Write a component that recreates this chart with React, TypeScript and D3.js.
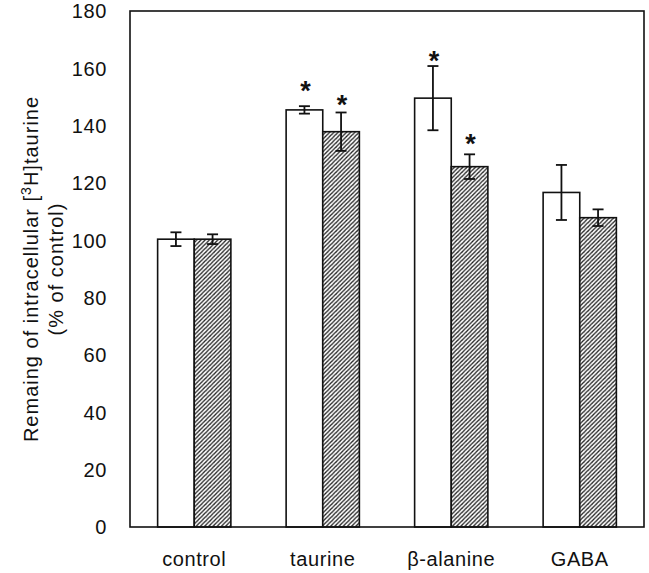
import { useRef, useEffect } from "react";
import * as d3 from "d3";

const categories = ["control", "taurine", "β-alanine", "GABA"];
const series = ["open", "hatched"];
const openValues = [100.4, 145.5, 149.6, 116.7];
const openErrors = [2.4, 1.3, 11.2, 9.6];
const hatchedValues = [100.4, 137.9, 125.7, 107.9];
const hatchedErrors = [1.7, 6.7, 4.3, 2.9];
// asterisk centre positions (y units), null = not significant
const openStars = [null, 154.2, 164.6, null];
const hatchedStars = [null, 149.3, 135.8, null];
const yTicks = [0, 20, 40, 60, 80, 100, 120, 140, 160, 180];

const W = 649;
const H = 573;
const FONT = "'Liberation Sans', Arial, Helvetica, sans-serif";

export default function App() {
  const svgRef = useRef<SVGSVGElement>(null);

  useEffect(() => {
    if (!svgRef.current) return;
    const svg = d3.select(svgRef.current);
    svg.selectAll("*").remove();

    const margin = { top: 11, right: 5, bottom: 46, left: 130 };
    const left = margin.left;
    const right = W - margin.right;
    const top = margin.top;
    const bottom = H - margin.bottom;

    const x = d3
      .scaleBand<string>()
      .domain(categories)
      .range([left, right])
      .paddingInner(0.43)
      .paddingOuter(0.215);
    const xs = d3
      .scaleBand<string>()
      .domain(series)
      .range([0, x.bandwidth()]);
    const y = d3.scaleLinear().domain([0, 180]).range([bottom, top]);

    // hatch pattern
    const defs = svg.append("defs");
    const pat = defs
      .append("pattern")
      .attr("id", "hatch")
      .attr("patternUnits", "userSpaceOnUse")
      .attr("width", 4.2)
      .attr("height", 4.2);
    pat.append("rect").attr("width", 4.2).attr("height", 4.2).attr("fill", "#fff");
    pat
      .append("path")
      .attr("d", "M-1,1.1 l2.1,-2.1 M0,4.2 l4.2,-4.2 M3.1,5.3 l2.1,-2.1")
      .attr("stroke", "#222")
      .attr("stroke-width", 1.3);

    const rows = categories.map((c, i) => ({
      cat: c,
      bars: [
        { key: "open", v: openValues[i], e: openErrors[i], star: openStars[i] },
        { key: "hatched", v: hatchedValues[i], e: hatchedErrors[i], star: hatchedStars[i] },
      ],
    }));

    const g = svg.append("g");

    // bars
    rows.forEach((r) => {
      r.bars.forEach((b) => {
        const bx = (x(r.cat) ?? 0) + (xs(b.key) ?? 0);
        g.append("rect")
          .attr("x", bx)
          .attr("y", y(b.v))
          .attr("width", xs.bandwidth())
          .attr("height", y(0) - y(b.v))
          .attr("fill", b.key === "open" ? "#fff" : "url(#hatch)")
          .attr("stroke", "#111")
          .attr("stroke-width", 1.6);
      });
    });

    // error bars + asterisks
    rows.forEach((r) => {
      r.bars.forEach((b) => {
        const cx = (x(r.cat) ?? 0) + (xs(b.key) ?? 0) + xs.bandwidth() / 2;
        const cap = 5.5;
        const eb = g.append("g").attr("stroke", "#111").attr("stroke-width", 1.8);
        eb.append("line")
          .attr("x1", cx).attr("x2", cx)
          .attr("y1", y(b.v + b.e)).attr("y2", y(b.v - b.e));
        eb.append("line")
          .attr("x1", cx - cap).attr("x2", cx + cap)
          .attr("y1", y(b.v + b.e)).attr("y2", y(b.v + b.e));
        eb.append("line")
          .attr("x1", cx - cap).attr("x2", cx + cap)
          .attr("y1", y(b.v - b.e)).attr("y2", y(b.v - b.e));
        if (b.star != null) {
          g.append("text")
            .attr("x", cx + 1)
            .attr("y", y(b.star) + 15)
            .attr("text-anchor", "middle")
            .attr("font-family", FONT)
            .attr("font-size", 27)
            .attr("font-weight", "bold")
            .attr("fill", "#111")
            .text("*");
        }
      });
    });

    // frame
    svg.append("rect")
      .attr("x", left)
      .attr("y", top)
      .attr("width", right - left)
      .attr("height", bottom - top)
      .attr("fill", "none")
      .attr("stroke", "#111")
      .attr("stroke-width", 1.6);

    // y tick labels
    svg.append("g")
      .selectAll("text")
      .data(yTicks)
      .join("text")
      .attr("x", 107)
      .attr("y", (d) => y(d))
      .attr("dy", "0.36em")
      .attr("text-anchor", "end")
      .attr("font-family", FONT)
      .attr("font-size", 20)
      .attr("letter-spacing", 0.6)
      .attr("fill", "#111")
      .text((d) => d);

    // x labels
    svg.append("g")
      .selectAll("text")
      .data(categories)
      .join("text")
      .attr("x", (d) => (x(d) ?? 0) + x.bandwidth() / 2)
      .attr("y", 566)
      .attr("text-anchor", "middle")
      .attr("font-family", FONT)
      .attr("font-size", 20)
      .attr("letter-spacing", 0.6)
      .attr("fill", "#111")
      .text((d) => d);

    // y label
    const cy = (top + bottom) / 2;
    const l1 = svg.append("text")
      .attr("transform", `translate(38,${cy}) rotate(-90)`)
      .attr("text-anchor", "middle")
      .attr("font-family", FONT)
      .attr("font-size", 20)
      .attr("letter-spacing", 1)
      .attr("fill", "#111");
    l1.append("tspan").text("Remaing of intracellular [");
    l1.append("tspan").attr("dy", -7).attr("font-size", 14).text("3");
    l1.append("tspan").attr("dy", 7).text("H]taurine");
    svg.append("text")
      .attr("transform", `translate(63,${cy}) rotate(-90)`)
      .attr("text-anchor", "middle")
      .attr("font-family", FONT)
      .attr("font-size", 20)
      .attr("letter-spacing", 1)
      .attr("fill", "#111")
      .text("(% of control)");
  }, []);

  return (
    <svg
      ref={svgRef}
      width={W}
      height={H}
      style={{ position: "absolute", left: 0, top: 0, background: "#fff" }}
    />
  );
}
